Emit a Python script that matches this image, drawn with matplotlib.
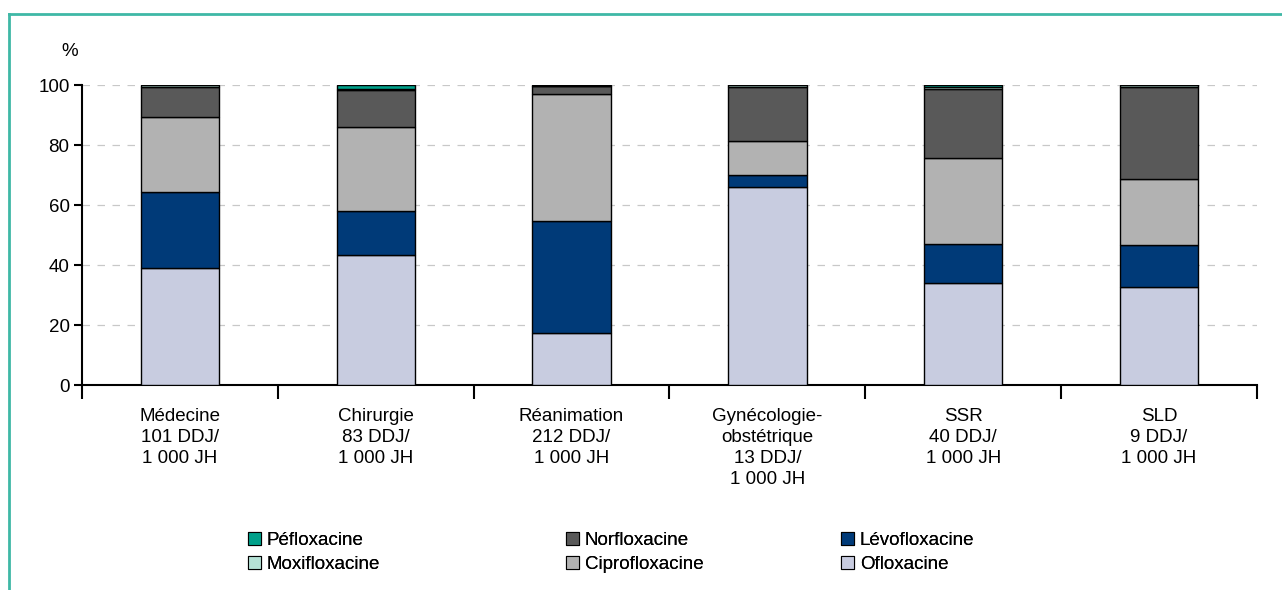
import matplotlib
matplotlib.use("Agg")
import matplotlib.pyplot as plt
from matplotlib.lines import Line2D
from matplotlib.patches import Patch
import numpy as np

plt.rcParams['font.family'] = ['Liberation Sans Narrow', 'Liberation Sans', 'DejaVu Sans']

categories = ["Médecine\n101 DDJ/\n1 000 JH", "Chirurgie\n83 DDJ/\n1 000 JH",
              "Réanimation\n212 DDJ/\n1 000 JH", "Gynécologie-\nobstétrique\n13 DDJ/\n1 000 JH",
              "SSR\n40 DDJ/\n1 000 JH", "SLD\n9 DDJ/\n1 000 JH"]

ofloxacine     = [39.0, 43.5, 17.3, 66.0, 34.0, 32.7]
levofloxacine  = [25.3, 14.5, 37.4, 4.0, 13.0, 14.0]
ciprofloxacine = [25.0, 28.0, 42.3, 11.3, 28.7, 22.0]
norfloxacine   = [10.0, 12.5, 2.6, 18.2, 23.1, 30.6]
moxifloxacine  = [0.7, 0.3, 0.2, 0.5, 0.5, 0.7]
pefloxacine    = [0.0, 1.2, 0.2, 0.0, 0.7, 0.0]

series = [
    ("Ofloxacine", ofloxacine, "#c8cce0"),
    ("Lévofloxacine", levofloxacine, "#003a78"),
    ("Ciprofloxacine", ciprofloxacine, "#b2b2b2"),
    ("Norfloxacine", norfloxacine, "#595959"),
    ("Moxifloxacine", moxifloxacine, "#b5e2d6"),
    ("Péfloxacine", pefloxacine, "#00a08a"),
]

fig = plt.figure(figsize=(12.82, 5.90), dpi=100)
ax = fig.add_axes([82/1282, 1-385/590, (1257-82)/1282, 300/590])

x = np.arange(len(categories))
bottom = np.zeros(len(categories))
handles = {}
for name, vals, col in series:
    vals = np.array(vals)
    ax.bar(x, vals, bottom=bottom, width=0.4, color=col, edgecolor="black", linewidth=1.0, zorder=3)
    bottom += vals
    handles[name] = Patch(facecolor=col, edgecolor="black", linewidth=0.8)

ax.set_xlim(-0.5, len(categories) - 0.5)
ax.set_ylim(0, 100)
ax.set_yticks([0, 20, 40, 60, 80, 100])
ax.tick_params(axis='y', direction='out', length=6, width=1.5, labelsize=13.5, pad=3)
for y in [20, 40, 60, 80, 100]:
    ax.axhline(y, color="#c8c8c8", lw=0.9, ls=(0, (6, 6)), zorder=1)

ax.set_xticks(np.arange(-0.5, len(categories)))
ax.set_xticklabels([""] * (len(categories) + 1))
ax.tick_params(axis='x', direction='out', length=10, width=1.5)
for i, c in enumerate(categories):
    ax.text(i, -7.6, c, ha="center", va="top", fontsize=13.5, linespacing=1.32)

for s in ["top", "right"]:
    ax.spines[s].set_visible(False)
ax.spines["left"].set_linewidth(1.5)
ax.spines["bottom"].set_linewidth(1.5)

fig.text(70/1282, 1-52/590, "%", ha="center", va="center", fontsize=13.5)

columns = [(["Péfloxacine", "Moxifloxacine"], 248),
           (["Norfloxacine", "Ciprofloxacine"], 566),
           (["Lévofloxacine", "Ofloxacine"], 841)]
for names, xpx in columns:
    leg = fig.legend([handles[n] for n in names], names, loc="upper left",
                     bbox_to_anchor=(xpx/1282, 1-532/590), frameon=False, fontsize=13.5,
                     handlelength=0.7, handleheight=0.7, handletextpad=0.3,
                     labelspacing=0.35, borderpad=0, borderaxespad=0)
    fig.add_artist(leg)

# frame lines (top and left)
fig.add_artist(Line2D([9/1282, 1], [1-14/590, 1-14/590], color="#3fb8a6", lw=2, transform=fig.transFigure))
fig.add_artist(Line2D([9/1282, 9/1282], [0, 1-14/590], color="#3fb8a6", lw=2, transform=fig.transFigure))

fig.savefig("out.png", dpi=100)
